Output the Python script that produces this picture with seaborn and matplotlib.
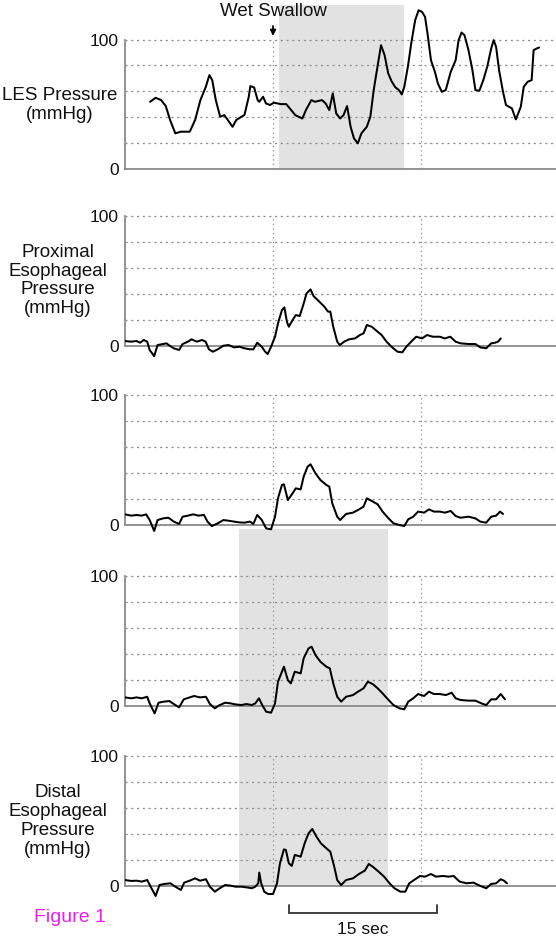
import numpy as np
import pandas as pd
import matplotlib
matplotlib.use("Agg")
import matplotlib.pyplot as plt
import matplotlib.transforms as mtransforms
from matplotlib.patches import Rectangle
import seaborn as sns

# ---------------- data (time in s, pressure in mmHg) ----------------
les_t = [2.54, 3.1, 3.66, 4.13, 4.57, 5.1, 5.65, 6.56, 7.1, 7.64, 8.19, 8.55, 8.84, 9.2, 9.64,
         10.07, 10.54, 10.9, 11.27, 11.8, 12.1, 12.54, 12.7, 13.08, 13.44, 13.6, 13.99, 14.28,
         14.7, 15.07, 15.8, 16.34, 16.7, 17.25, 17.97, 18.33, 18.88, 19.24, 19.96, 20.33, 20.7,
         21.05, 21.4, 21.8, 22.14, 22.5, 22.86, 23.2, 23.59, 23.95, 24.5, 24.86, 25.2, 25.58,
         25.94, 26.3, 26.67, 27.03, 27.4, 27.75, 28.04, 28.3, 28.66, 29.0, 29.4, 29.75, 30.1,
         30.4, 30.65, 31.0, 31.4, 31.7, 32.1, 32.5, 33.0, 33.5, 33.8, 34.1, 34.4, 34.8, 35.2,
         35.5, 35.9, 36.3, 36.7, 37.1, 37.35, 37.6, 37.9, 38.3, 38.6, 39.2, 39.6, 40.1, 40.4,
         40.8, 41.2, 41.4, 41.7, 41.96]
les_p = [51.9, 55, 53.2, 48.6, 37.8, 27.5, 28.8, 28.8, 37.8, 53.2, 63.5, 72.5, 68.6, 53.2, 40.4,
         41.6, 36.5, 32.6, 37.8, 40.4, 41.6, 55.8, 64, 63, 53.2, 51.9, 55.8, 50.6,
         49.4, 51.2, 50.1, 50.1, 46.8, 41.6, 39, 45.5, 53.2, 51.9, 53.2, 50.6, 45.5,
         58.4, 42.9, 39, 41.6, 48.6, 32.6, 23.6, 19.8, 27.5, 32.6, 40.4, 61, 79,
         95.6, 87.9, 73.8, 67.4, 63, 61, 57.6, 63.5, 79, 97, 115, 122.6, 121.3,
         117.5, 104.6, 84, 75, 66, 59.6, 61, 75, 84, 99.5, 105.4, 103.3, 91.8, 76.3,
         61, 60.4, 68.6, 79, 93, 99.5, 94.3, 76.3, 59.6, 49.4, 46.8, 38.3, 48, 63.5,
         67.4, 68.6, 91.8, 93, 93.8]

prox_t = [0, 0.63, 1.17, 1.53, 1.9, 2.25, 2.5, 2.96, 3.3, 3.86, 4.2, 4.58, 4.94, 5.48, 5.84,
          6.38, 6.74, 7.28, 7.8, 8.17, 8.5, 8.9, 9.4, 9.97, 10.5, 11.05, 11.6, 12.1, 12.67,
          13.0, 13.4, 13.86, 14.2, 14.46, 14.8, 15.2, 15.5, 15.9, 16.15, 16.4, 16.6, 16.98,
          17.3, 17.7, 18.06, 18.4, 18.8, 19.1, 19.7, 20.2, 20.57, 20.8, 21.1, 21.5, 21.76,
          22.2, 22.7, 23.3, 23.8, 24.17, 24.5, 25.0, 25.4, 26.0, 26.5, 27.0, 27.6, 28.1,
          28.5, 29.0, 29.5, 30.1, 30.6, 31.2, 31.9, 32.4, 32.96, 33.5, 34.0, 34.8, 35.5,
          36.0, 36.6, 37.1, 37.5, 37.8, 38.07]
prox_p = [3.6, 3.1, 3.6, 2.3, 4.4, 3.1, -3.3, -8, 0.5, 1.3, 1.8, -0.3, -2, -3.3, 1.3,
          3.1, 4.9, 3.1, 4.4, 3.1, -2.8, -4.6, -2.8, 0, 0.5, -1.3, -0.8, -2, -2.8,
          -2.8, 2.3, -0.8, -4.6, -6.4, -0.8, 6.9, 17.2, 27.4, 29.5, 18.5, 14.6, 19.7,
          23.6, 22.8, 31.3, 40.3, 43.3, 38.2, 33.8, 30, 26.2, 26.2, 14.6, 3.1, 0.5,
          3.1, 4.9, 5.6, 8.2, 9.5, 15.9, 14.6, 12, 8.2, 3.1, -0.8, -4.6, -5.1,
          -0.8, 3.1, 6.9, 5.6, 8.2, 6.9, 6.9, 5.6, 6.9, 3.1, 1.8, 1.3, 1.3,
          -1.3, -2, 1.8, 2.3, 3.1, 5.6]

mid1_t = [0, 0.63, 1.17, 1.7, 2.14, 2.5, 2.96, 3.3, 3.86, 4.4, 4.94, 5.48, 5.84, 6.38, 6.9,
          7.45, 8.0, 8.36, 8.8, 9.4, 9.97, 10.5, 11.05, 11.6, 12.1, 12.67, 13.0, 13.4, 13.86,
          14.3, 14.8, 15.2, 15.5, 15.9, 16.1, 16.5, 16.98, 17.3, 17.8, 18.1, 18.5, 18.8,
          19.3, 19.8, 20.4, 20.7, 21.0, 21.5, 21.8, 22.4, 23.1, 23.6, 24.17, 24.5, 25.0,
          25.6, 26.1, 26.7, 27.2, 27.8, 28.3, 28.7, 29.2, 29.7, 30.3, 30.8, 31.3, 31.9,
          32.4, 33.0, 33.5, 34.0, 34.8, 35.5, 36.0, 36.6, 37.1, 37.6, 38.0, 38.3]
mid1_p = [8.2, 7.2, 7.7, 7.2, 8.2, 3.8, -4.6, 3.8, 5.1, 5.6, 2.6, 0.8, 6.4, 7.2, 8.2,
          7.2, 7.7, 2.6, -0.8, 1.3, 3.8, 3.3, 2.6, 2, 1.8, 2.6, 0.8, 7.7, 3.8,
          -2.6, -3.3, 6.4, 20.5, 30.8, 31.3, 19.2, 24.4, 28.2, 27.4, 37.2, 44.9, 46.7,
          39.7, 34.6, 30.8, 29.5, 16.7, 6.4, 3.8, 8.5, 9.5, 11.5, 14.1, 20.5, 18.5,
          15.9, 10.3, 5.1, 1.3, 0, -0.8, 4.4, 6.4, 10.3, 9.5, 12, 10.3, 10.3,
          9.5, 10.8, 6.9, 5.6, 6.4, 5.1, 2.6, 1.8, 6.4, 7.2, 10.3, 8.5]

mid2_t = [0, 0.63, 1.17, 1.7, 2.25, 2.5, 3.0, 3.4, 3.9, 4.5, 4.94, 5.48, 5.95, 6.55, 7.0,
          7.6, 8.2, 8.6, 9.1, 9.6, 10.15, 10.7, 11.2, 11.8, 12.3, 12.85, 13.2, 13.57, 13.9,
          14.3, 14.8, 15.2, 15.5, 16.1, 16.5, 16.8, 17.2, 17.8, 18.1, 18.6, 18.9, 19.3,
          19.8, 20.4, 20.75, 21.1, 21.5, 21.9, 22.4, 23.1, 23.6, 24.17, 24.6, 25.1, 25.6,
          26.1, 26.7, 27.2, 27.8, 28.3, 28.7, 29.2, 29.7, 30.3, 30.8, 31.3, 31.9, 32.5,
          33.1, 33.5, 34.0, 34.8, 35.5, 36.1, 36.6, 37.1, 37.6, 38.07, 38.5]
mid2_p = [6.4, 5.7, 6.4, 5.7, 6.9, 1.8, -5.9, 2.3, 3.1, 3.6, 1.3, -1.3, 4.9, 6.4, 7.5,
          6.4, 6.9, 1.3, -2, 0.5, 2.3, 1.8, 1, 0.5, 1.3, 0.5, 1.8, 5.7, 0.5,
          -4.6, -5.4, 1.8, 18.5, 30.1, 19.8, 17.2, 26.2, 24.9, 36.5, 44.2, 45.5, 39,
          33.9, 30.1, 28.8, 17.2, 6.9, 3.1, 6.9, 8.2, 10.8, 13.4, 18.5, 16.7, 13.4,
          9.5, 4.4, 0.5, -2, -2.8, 3.1, 5.7, 9, 7.5, 10.8, 9, 9, 8.2,
          10, 5.7, 4.4, 3.9, 3.9, 1.8, 0.5, 4.9, 4.9, 9, 4.9]

dist_t = [0, 0.63, 1.17, 1.7, 2.25, 2.6, 3.1, 3.5, 4.0, 4.6, 5.1, 5.66, 6.0, 6.56, 7.1,
          7.6, 8.2, 8.6, 9.1, 9.6, 10.15, 10.7, 11.2, 11.8, 12.3, 12.85, 13.2, 13.5, 13.6,
          13.8, 14.1, 14.5, 15.0, 15.4, 15.7, 16.1, 16.3, 16.6, 16.9, 17.2, 17.8, 18.2,
          18.6, 18.97, 19.4, 19.85, 20.4, 20.8, 21.2, 21.5, 21.9, 22.4, 23.1, 23.7, 24.3,
          24.7, 25.1, 25.7, 26.25, 26.8, 27.3, 27.9, 28.4, 28.8, 29.4, 29.9, 30.4, 31.0,
          31.5, 32.2, 32.8, 33.3, 33.9, 34.6, 35.3, 36.0, 36.6, 37.1, 37.6, 38.07, 38.4, 38.7]
dist_p = [4.8, 4.1, 4.3, 3.6, 4.8, -0.3, -7.4, 1, 1.8, 2.3, -0.3, -2.8, 2.8, 4.3, 6.1,
          4.3, 5.4, -0.3, -4.1, -1.5, 1, 0.5, -0.3, -0.3, -0.8, -1.5, -0.3, 2.3, 10.5,
          2.3, -4.1, -5.9, -5.9, 2.3, 17.6, 28.3, 27.8, 17.6, 15.6, 24, 22.7, 32.9,
          40.6, 43.9, 38, 32.9, 29.1, 26.5, 15, 4.8, 1, 4.8, 6.1, 9.4, 12,
          17.1, 15, 11.2, 7.4, 2.3, -1.5, -4.1, -4.1, 2.3, 5.4, 7.9, 7.4, 9.4,
          7.4, 7.9, 7.4, 7.9, 3.6, 2.3, 2.8, 0.3, -1.5, 1.8, 2.3, 5.4, 4.3, 2.3]

panel_labels = ["LES Pressure\n(mmHg)", "Proximal\nEsophageal\nPressure\n(mmHg)", "", "",
                "Distal\nEsophageal\nPressure\n(mmHg)"]
y_ticks = [0, 100]
grid_levels = [20, 40, 60, 80, 100]
marker_times = [15, 30]
swallow_time = 15
les_shade = (15.6, 28.3)
lower_shade = (11.5, 26.6)
scale_bar = (16.6, 15)   # start, length (s)

# ---------------- style ----------------
sns.set_style("white")
plt.rcParams['font.family'] = ['Liberation Sans', 'DejaVu Sans']

W, H = 556.0, 936.0
fig = plt.figure(figsize=(W / 100, H / 100), dpi=100)
L = 125.0
px_per_s = 9.87
XMAX = (W - L) / px_per_s

zero_px = [169, 345.7, 525, 705.7, 886.3]
hund_px = [39.5, 215.7, 395, 576, 755.7]
ylims = [(-12, 127), (-12, 104), (-12, 104), (-12, 104), (-12, 104)]
series = [(les_t, les_p), (prox_t, prox_p), (mid1_t, mid1_p), (mid2_t, mid2_p), (dist_t, dist_p)]
label_pos = [(60, 105), (58, 280.5), None, None, (58, 821)]

GRID_C = '#8f8f8f'
SPINE_C = '#8a8a8a'
SHADE_C = '#e2e2e2'
TXT_C = '#111111'

axes = []
for i in range(5):
    lo, hi = ylims[i]
    s = (zero_px[i] - hund_px[i]) / 100.0
    top = zero_px[i] - hi * s
    bot = zero_px[i] - lo * s
    ax = fig.add_axes([L / W, 1 - bot / H, (W - L) / W, (bot - top) / H])
    ax.patch.set_alpha(0)
    ax.set_xlim(0, XMAX)
    ax.set_ylim(lo, hi)
    for g in grid_levels:
        ax.axhline(g, color=GRID_C, lw=0.9, ls=(0, (1.7, 2.9)), zorder=1)
    for mt in marker_times:
        ax.plot([mt, mt], [0, 100], color=GRID_C, lw=0.9, ls=(0, (1, 2.6)), zorder=1)
    t, p = series[i]
    df = pd.DataFrame({'t': t, 'p': p})
    sns.lineplot(data=df, x='t', y='p', ax=ax, color='black', lw=1.45, estimator=None, zorder=3)
    ax.set_xlabel('')
    ax.set_ylabel('')
    ax.set_xticks([])
    ax.set_yticks(y_ticks)
    ax.set_yticklabels([str(v) for v in y_ticks])
    ax.tick_params(axis='y', length=0, pad=4.3, labelsize=12.5, labelcolor=TXT_C)
    for sp in ['top', 'right']:
        ax.spines[sp].set_visible(False)
    ax.spines['left'].set_bounds(0, 100)
    ax.spines['left'].set_color(SPINE_C)
    ax.spines['left'].set_linewidth(1.3)
    ax.spines['bottom'].set_position(('data', 0))
    ax.spines['bottom'].set_color(SPINE_C)
    ax.spines['bottom'].set_linewidth(1.3)
    if label_pos[i] is not None:
        x, y = label_pos[i]
        fig.text(x / W, 1 - y / H, panel_labels[i], ha='center', va='center',
                 multialignment='center', fontsize=13.5, linespacing=1.13, color=TXT_C)
    axes.append(ax)

# LES shading
ax1 = axes[0]
ax1.axvspan(les_shade[0], les_shade[1], ymin=(0 - ylims[0][0]) / (ylims[0][1] - ylims[0][0]),
            ymax=1, color=SHADE_C, lw=0, zorder=0)

# shading across panels 4-5
ax5 = axes[4]
trans = mtransforms.blended_transform_factory(ax5.transData, fig.transFigure)
rect = Rectangle((lower_shade[0], 1 - 886.3 / H), lower_shade[1] - lower_shade[0],
                 (886.3 - 529) / H, transform=trans, facecolor=SHADE_C, edgecolor='none',
                 zorder=-1)
fig.add_artist(rect)

# Wet swallow annotation
s1 = (zero_px[0] - hund_px[0]) / 100.0
fig.text(273 / W, 1 - 12 / H, "Wet Swallow", ha='center', va='center', fontsize=13.5,
         color=TXT_C)
ax1.annotate('', xy=(swallow_time, (zero_px[0] - 36) / s1),
             xytext=(swallow_time, (zero_px[0] - 26) / s1),
             arrowprops=dict(arrowstyle='-|>', color='black', lw=1.3, mutation_scale=8,
                             shrinkA=0, shrinkB=0), annotation_clip=False)

# scale bar
s5 = (zero_px[4] - hund_px[4]) / 100.0
yb = -(913 - zero_px[4]) / s5
yt = -(905 - zero_px[4]) / s5
x0, ln = scale_bar
ax5.plot([x0, x0, x0 + ln, x0 + ln], [yt, yb, yb, yt], color='#333333', lw=1.3,
         clip_on=False, solid_joinstyle='miter')
ax5.text(x0 + ln / 2, -(929 - zero_px[4]) / s5, "15 sec", ha='center', va='center',
         fontsize=12.5, color=TXT_C, clip_on=False)

fig.text(34 / W, 1 - 917 / H, "Figure 1", ha='left', va='center', fontsize=14,
         color='#f01cf0')

fig.savefig("out.png", dpi=100)
